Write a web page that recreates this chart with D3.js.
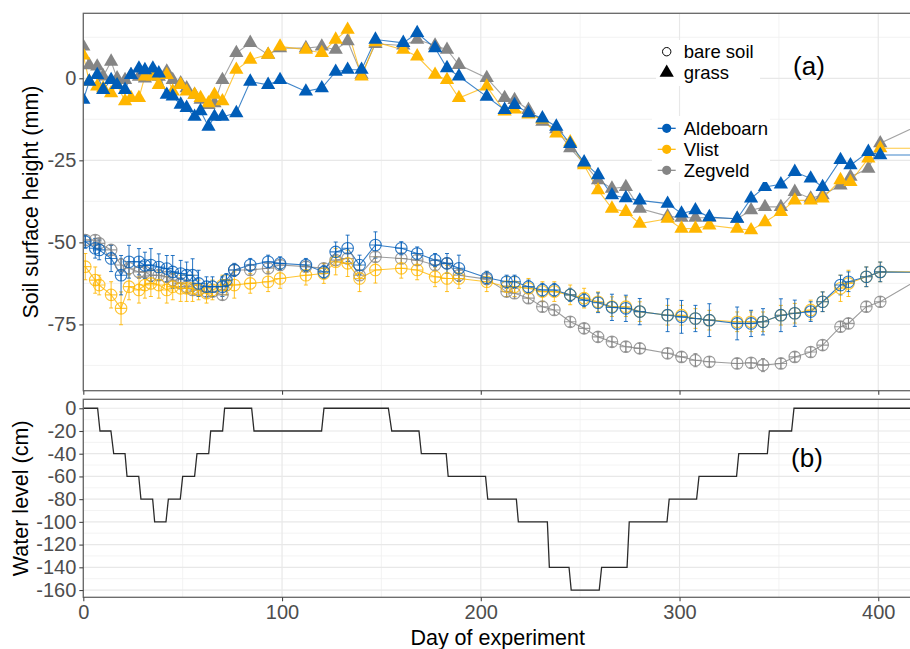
<!DOCTYPE html>
<html lang="en">
<head>
<meta charset="UTF-8">
<title>Soil surface height and water level</title>
<script src="https://d3js.org/d3.v7.min.js"></script>
<style>
  body { margin: 0; background: #fff; }
  text { font-family: "Liberation Sans", Arial, sans-serif; }
</style>
</head>
<body>
<svg id="chart" width="910" height="649"></svg>
<script>
// ---- data ----
const sites = ['Aldeboarn', 'Vlist', 'Zegveld'];
const siteColors = ['#005DB8', '#FFB600', '#858585'];
const shapeLabels = ['bare soil', 'grass'];

const grassDay = [0, 3, 7, 10, 14, 17, 21, 24, 28, 31, 35, 38, 42, 45, 49, 52, 56, 59, 63, 66,
  70, 77, 84, 93, 99, 112, 120, 127, 133, 140, 147, 161, 168, 177, 183, 189, 203, 212, 217, 224,
  231, 238, 245, 252, 259, 266, 273, 280, 294, 301, 308, 315, 329, 336, 343, 351, 358, 366, 372, 381,
  386, 395, 401, 430];

const grassAldeboarn = [-6.5, -1, 1, -3.5, -0.5, -2, -3.5, 1, 3, 2.5, 3, 1.5, -5, -5.5, -8, -9, -11.7, -10, -14.7, -11.7,
  -11.7, -10.6, -1, -2, -0.5, -4, -3, 2, 2.6, 2.6, 11.8, 10.8, 13.8, 9.2, 3.1, 0.6, -5.6, -9.6, -8.1, -10.6,
  -12.2, -14.7, -20, -25.6, -29.5, -35.6, -36.5, -37.2, -38.2, -41.2, -40.2, -42.3, -42.8, -36.6, -33.1, -32.3, -28.5, -30.5, -33.1, -24.9,
  -26.5, -22.4, -23.4, -23.4];
const grassVlist = [7, -1, -2.5, -3, -4.5, -2, -7, -6, -6, 0.6, 0.6, -2, 1, -4, -2, -4, -5, -6, -7.6, -5,
  -7, 2.6, 5.7, 7.2, 9.7, 8.7, 7.7, 11.8, 14.8, 0.6, 11, 8.7, 6.7, 1.1, -0.5, -6, -2.5, -10.1, -9.5, -11,
  -12.5, -16.8, -19.5, -26.5, -34.1, -39.7, -40.7, -44.3, -42.8, -45.8, -45.8, -44.8, -45.8, -46.3, -43.8, -40.7, -37.2, -37.2, -36.6, -31,
  -31.6, -24.4, -21.3, -21.3];
const grassZegveld = [9.7, 4, 3.6, 0.6, 5.1, 0, -0.5, 1, 0.5, 0, 1, 0.5, 2.1, -0.5, -1.5, -3, -5, -6.5, -8.1, -7.6,
  -0.5, 7.7, 10.8, 7.2, 9.2, 9.2, 9.7, 8.7, 11.3, 1.1, 10.5, 10, 11.8, 10, 8.7, 4.1, 0.1, -6, -6.6, -9.6,
  -13.2, -15.5, -21.3, -26, -31, -33.6, -33.1, -39.7, -42, -42.5, -42.5, -42.5, -42.8, -40.2, -39.2, -39.2, -34.6, -36.6, -35.6, -32.6,
  -30, -27.5, -19.8, -11.6];

const bareDay = [1, 6, 8, 14, 19, 23, 28, 31, 34, 38, 42, 45, 49, 52, 55, 58, 62, 65, 70, 72,
  76, 84, 93, 99, 112, 121, 127, 133, 139, 147, 160, 168, 177, 183, 189, 203, 213, 217, 224, 231,
  237, 245, 252, 259, 266, 273, 280, 294, 301, 308, 315, 329, 336, 342, 351, 358, 366, 372, 381, 385,
  394, 401, 430];

const bareAldeboarn = [-49.8, -51.8, -52.3, -54.9, -60, -55.9, -55.9, -57, -56.9, -57.5, -58, -59, -59.5, -60, -60, -62.5, -63.5, -63.5, -63.5, -61.5,
  -58.4, -56.9, -55.9, -56.4, -56.9, -59, -52.9, -51.8, -56.9, -50.8, -51.8, -53.4, -55.4, -56.4, -57.9, -60.8, -62, -62, -63.5, -64.5,
  -64.5, -66, -67.6, -68.4, -69.8, -70.1, -71.1, -72.2, -72.7, -73.2, -73.7, -74.7, -74.7, -74.2, -72.2, -71.6, -71.1, -68.1, -63, -62,
  -60.5, -59, -59.2];
const bareAldeboarnSd = [2, 3, 3, 4, 6, 5, 4, 4, 5, 4, 4, 5, 4, 4, 5, 4, 3, 3, 3, 2,
  2, 2, 2, 2, 2, 2, 3, 4, 3, 4, 2, 2, 2, 3, 4, 2, 2, 2, 2, 2,
  2, 2, 2, 3, 4, 4, 4, 5, 5, 4, 5, 5, 4, 4, 5, 4, 3, 3, 3, 3,
  3, 3, 0];
const bareVlist = [-57.4, -61.5, -63, -66, -70.1, -63.5, -64.5, -63, -62.5, -63, -64.5, -63.5, -64, -64, -64, -64.5, -65.5, -64.5, -63, -63,
  -63, -62.5, -62, -61, -60, -59.5, -55.9, -56.4, -61, -58.4, -57.9, -58.4, -60.5, -61, -61, -62, -63.5, -63.5, -64, -65,
  -65, -66, -67, -68.1, -69.6, -69.6, -71.1, -72.2, -72.2, -73.2, -73.7, -74.2, -74.2, -74.2, -72.2, -71.6, -70.6, -68.1, -64, -62.5,
  -60.5, -59, -59];
const bareVlistSd = [4, 4, 3, 4, 5, 4, 4, 4, 4, 4, 4, 4, 4, 4, 4, 3, 3, 3, 3, 3,
  4, 3, 3, 3, 3, 3, 4, 4, 4, 4, 3, 3, 3, 4, 3, 3, 3, 3, 3, 3,
  3, 3, 3, 3, 3, 3, 3, 3, 3, 3, 3, 3, 3, 3, 3, 3, 3, 3, 4, 4,
  3, 3, 0];
const bareZegveld = [-49.3, -49.3, -50.3, -52.3, -56.9, -57.9, -59, -59, -60, -60, -60.5, -61.5, -62.5, -63.5, -64.5, -64.5, -65, -65, -66, -63,
  -58.4, -58.4, -57.9, -56.9, -57.4, -57.9, -55.4, -54.9, -60, -54.4, -54.9, -55.4, -56.9, -56.4, -60, -61.2, -65, -65.5, -67, -69.6,
  -70.6, -74.2, -76.2, -78.8, -80.3, -81.8, -82.3, -83.8, -84.9, -85.9, -86.4, -86.9, -86.7, -87.4, -86.9, -84.9, -83.4, -81.3, -75.7, -74.7,
  -69.6, -68.1, -57.9];
const bareZegveldSd = [1.5, 1.5, 1.5, 1.5, 2, 2, 2, 1.5, 2, 1.5, 1.5, 2, 1.5, 2, 1.5, 1.5, 2, 1.5, 1.5, 1.5,
  1.5, 1.5, 1.5, 1.5, 1.5, 1.5, 1.5, 1.5, 1.5, 1.5, 1.5, 1.5, 1.5, 1.5, 1.5, 1.5, 1.5, 1.5, 1.5, 1.5,
  1.5, 1.5, 1.5, 1.5, 1.5, 1.5, 1.5, 1.5, 1.5, 2, 1.5, 1.5, 1.5, 2, 1.5, 1.5, 1.5, 1.5, 1.5, 1.5,
  1.5, 1.5, 0];

// water level set points (cm)
const waterDay = [0, 7.2, 8.4, 13.9, 15.3, 21, 22, 27.9, 29, 34.9, 35.9, 41.6, 42.8, 48.8, 50, 56, 57.2, 63.1, 64.1, 70.1,
  71.1, 84.7, 85.9, 119.9, 121.1, 153.5, 155.2, 168.9, 170.1, 182.6, 183.6, 202.4, 203.5, 217.9, 218.9, 233.5, 234.5, 244.4, 245.5, 259.6,
  260.8, 273.6, 274.7, 293.7, 294.8, 308.6, 309.8, 328.7, 329.8, 344.2, 345.2, 356.4, 357.6, 430];
const waterLevel = [0, 0, -20, -20, -40, -40, -60, -60, -80, -80, -100, -100, -80, -80, -60, -60, -40, -40, -20, -20,
  0, 0, -20, -20, 0, 0, -20, -20, -40, -40, -60, -60, -80, -80, -100, -100, -140, -140, -160, -160,
  -140, -140, -100, -100, -80, -80, -60, -60, -40, -40, -20, -20, 0, 0];

const xMajor = [0, 100, 200, 300, 400];
const xMinor = [50, 150, 250, 350];
const aMajor = [0, -25, -50, -75];
const aMinor = [12.5, -12.5, -37.5, -62.5, -87.5];
const bMajor = [0, -20, -40, -60, -80, -100, -120, -140, -160];
const bMinor = [-10, -30, -50, -70, -90, -110, -130, -150];

// ---- layout ----
const svg = d3.select('#chart');
const left = 83.3, right = 920;
const aTop = 13.3, aBottom = 390.7, bTop = 399.3, bBottom = 597.3;
const x = d3.scaleLinear().domain([0, 421]).range([left, right]);
const yA = d3.scaleLinear().domain([-95.2, 19.8]).range([aBottom, aTop]);
const yB = d3.scaleLinear().domain([-166.4, 7.9]).range([bBottom, bTop]);

const series = sites.map((s, i) => ({
  name: s,
  color: siteColors[i],
  grass: grassDay.map((d, j) => ({ day: d, value: [grassAldeboarn, grassVlist, grassZegveld][i][j] })),
  bare: bareDay.map((d, j) => ({
    day: d,
    value: [bareAldeboarn, bareVlist, bareZegveld][i][j],
    sd: [bareAldeboarnSd, bareVlistSd, bareZegveldSd][i][j]
  }))
}));
const drawOrder = series.slice().reverse();

const defs = svg.append('defs');
defs.append('clipPath').attr('id', 'clipA').append('rect')
  .attr('x', left).attr('y', aTop).attr('width', right - left).attr('height', aBottom - aTop);
defs.append('clipPath').attr('id', 'clipB').append('rect')
  .attr('x', left).attr('y', bTop).attr('width', right - left).attr('height', bBottom - bTop);

function grid(g, yScale, top, bottom, yMin, yMaj) {
  g.selectAll('.hmin').data(yMin).enter().append('line')
    .attr('x1', left).attr('x2', right).attr('y1', d => yScale(d)).attr('y2', d => yScale(d))
    .attr('stroke', '#f0f0f0').attr('stroke-width', 0.8);
  g.selectAll('.vmin').data(xMinor).enter().append('line')
    .attr('y1', top).attr('y2', bottom).attr('x1', d => x(d)).attr('x2', d => x(d))
    .attr('stroke', '#f0f0f0').attr('stroke-width', 0.8);
  g.selectAll('.hmaj').data(yMaj).enter().append('line')
    .attr('x1', left).attr('x2', right).attr('y1', d => yScale(d)).attr('y2', d => yScale(d))
    .attr('stroke', '#e8e8e8').attr('stroke-width', 1.2);
  g.selectAll('.vmaj').data(xMajor).enter().append('line')
    .attr('y1', top).attr('y2', bottom).attr('x1', d => x(d)).attr('x2', d => x(d))
    .attr('stroke', '#e8e8e8').attr('stroke-width', 1.2);
}

grid(svg.append('g'), yA, aTop, aBottom, aMinor, aMajor);
grid(svg.append('g'), yB, bTop, bBottom, bMinor, bMajor);

// ---- panel (a) ----
const pa = svg.append('g').attr('clip-path', 'url(#clipA)');
const lineA = d3.line().x(d => x(d.day)).y(d => yA(d.value));

drawOrder.forEach(s => {
  pa.append('path').datum(s.bare).attr('d', lineA)
    .attr('fill', 'none').attr('stroke', s.color).attr('stroke-width', 1.1).attr('stroke-opacity', 0.8);
});
drawOrder.forEach(s => {
  pa.append('path').datum(s.grass).attr('d', lineA)
    .attr('fill', 'none').attr('stroke', s.color).attr('stroke-width', 1.1).attr('stroke-opacity', 0.75);
});

// error bars
drawOrder.forEach(s => {
  const eb = pa.append('g').attr('stroke', s.color).attr('stroke-width', 1).attr('stroke-opacity', 0.85);
  const pts = s.bare.filter(d => d.sd > 0);
  eb.selectAll('.v').data(pts).enter().append('line')
    .attr('x1', d => x(d.day)).attr('x2', d => x(d.day))
    .attr('y1', d => yA(d.value - d.sd)).attr('y2', d => yA(d.value + d.sd));
  eb.selectAll('.t').data(pts).enter().append('line')
    .attr('x1', d => x(d.day) - 2).attr('x2', d => x(d.day) + 2)
    .attr('y1', d => yA(d.value + d.sd)).attr('y2', d => yA(d.value + d.sd));
  eb.selectAll('.b').data(pts).enter().append('line')
    .attr('x1', d => x(d.day) - 2).attr('x2', d => x(d.day) + 2)
    .attr('y1', d => yA(d.value - d.sd)).attr('y2', d => yA(d.value - d.sd));
});

// bare soil points: open circle with a cross
drawOrder.forEach(s => {
  const g = pa.append('g').attr('stroke', s.color).attr('fill', 'none')
    .attr('stroke-width', 1.1).attr('stroke-opacity', 0.8);
  const pt = g.selectAll('g').data(s.bare).enter().append('g')
    .attr('transform', d => `translate(${x(d.day)},${yA(d.value)})`);
  pt.append('circle').attr('r', 5.8);
  pt.append('line').attr('x1', -5.8).attr('x2', 5.8).attr('y1', 0).attr('y2', 0);
  pt.append('line').attr('x1', 0).attr('x2', 0).attr('y1', -5.8).attr('y2', 5.8);
});

// grass points: filled triangles
const tri = d3.symbol().type(d3.symbolTriangle).size(88);
drawOrder.forEach(s => {
  pa.append('g').selectAll('path').data(s.grass).enter().append('path')
    .attr('d', tri)
    .attr('transform', d => `translate(${x(d.day)},${yA(d.value)})`)
    .attr('fill', s.color);
});

// ---- panel (b) ----
const water = waterDay.map((d, i) => ({ day: d, value: waterLevel[i] }));
svg.append('g').attr('clip-path', 'url(#clipB)')
  .append('path').datum(water)
  .attr('d', d3.line().x(d => x(d.day)).y(d => yB(d.value)))
  .attr('fill', 'none').attr('stroke', '#2b2b2b').attr('stroke-width', 1.3);

// ---- borders & axes ----
[[aTop, aBottom], [bTop, bBottom]].forEach(([t, b]) => {
  svg.append('rect').attr('x', left).attr('y', t).attr('width', right - left).attr('height', b - t)
    .attr('fill', 'none').attr('stroke', '#666').attr('stroke-width', 1.3);
});

function styleAxis(g) {
  g.select('.domain').remove();
  g.selectAll('.tick line').attr('stroke', '#444').attr('stroke-width', 1.1);
  g.selectAll('.tick text').attr('fill', '#4d4d4d').style('font-size', '20px')
    .style('font-family', '"Liberation Sans", Arial, sans-serif');
}
const fmt = d => String(d);

svg.append('g').attr('transform', `translate(${left},0)`)
  .call(d3.axisLeft(yA).tickValues(aMajor).tickSize(4).tickPadding(3).tickFormat(fmt))
  .call(styleAxis);
svg.append('g').attr('transform', `translate(${left},0)`)
  .call(d3.axisLeft(yB).tickValues(bMajor).tickSize(4).tickPadding(3).tickFormat(fmt))
  .call(styleAxis);
svg.append('g').attr('transform', `translate(0,${aBottom})`)
  .call(d3.axisBottom(x).tickValues(xMajor).tickSize(4).tickFormat(''))
  .call(styleAxis);
svg.append('g').attr('transform', `translate(0,${bBottom})`)
  .call(d3.axisBottom(x).tickValues(xMajor).tickSize(4).tickPadding(4).tickFormat(fmt))
  .call(styleAxis);

// axis titles
svg.append('text').attr('transform', `translate(37.5,${(aTop + aBottom) / 2}) rotate(-90)`)
  .attr('text-anchor', 'middle').style('font-size', '21.5px').attr('fill', '#000')
  .text('Soil surface height (mm)');
svg.append('text').attr('transform', `translate(27.5,${(bTop + bBottom) / 2}) rotate(-90)`)
  .attr('text-anchor', 'middle').style('font-size', '21.5px').attr('fill', '#000')
  .text('Water level (cm)');
svg.append('text').attr('x', (left + right) / 2 - 4).attr('y', 645)
  .attr('text-anchor', 'middle').style('font-size', '21.5px').attr('fill', '#000')
  .text('Day of experiment');

// panel labels
svg.append('text').attr('x', 809).attr('y', 75).attr('text-anchor', 'middle')
  .style('font-size', '26px').text('(a)');
svg.append('text').attr('x', 807).attr('y', 467).attr('text-anchor', 'middle')
  .style('font-size', '26px').text('(b)');

// ---- legends ----
const legX = 666.7;
const lg1 = svg.append('g');
lg1.append('rect').attr('x', 656).attr('y', 40).attr('width', 104).attr('height', 46).attr('fill', '#fff');
const lg1Rows = lg1.selectAll('g').data(shapeLabels).enter().append('g')
  .attr('transform', (d, i) => `translate(${legX},${51.7 + i * 21})`);
lg1Rows.filter((d, i) => i === 0).append('circle').attr('r', 4.2)
  .attr('fill', 'none').attr('stroke', '#000').attr('stroke-width', 1);
lg1Rows.filter((d, i) => i === 1).append('path')
  .attr('d', d3.symbol().type(d3.symbolTriangle).size(88)).attr('fill', '#000');
lg1Rows.append('text').attr('x', 17).attr('y', 6.5).style('font-size', '18.5px').text(d => d);

const lg2 = svg.append('g');
lg2.append('rect').attr('x', 652).attr('y', 116).attr('width', 118).attr('height', 66).attr('fill', '#fff');
const lg2Rows = lg2.selectAll('g').data(sites).enter().append('g')
  .attr('transform', (d, i) => `translate(${legX},${128.3 + i * 21})`);
lg2Rows.append('line').attr('x1', -9).attr('x2', 9)
  .attr('stroke', (d, i) => siteColors[i]).attr('stroke-width', 1.2);
lg2Rows.append('circle').attr('r', 4.6).attr('fill', (d, i) => siteColors[i]);
lg2Rows.append('text').attr('x', 17).attr('y', 6.7).style('font-size', '18.5px').text(d => d);
</script>
</body>
</html>
